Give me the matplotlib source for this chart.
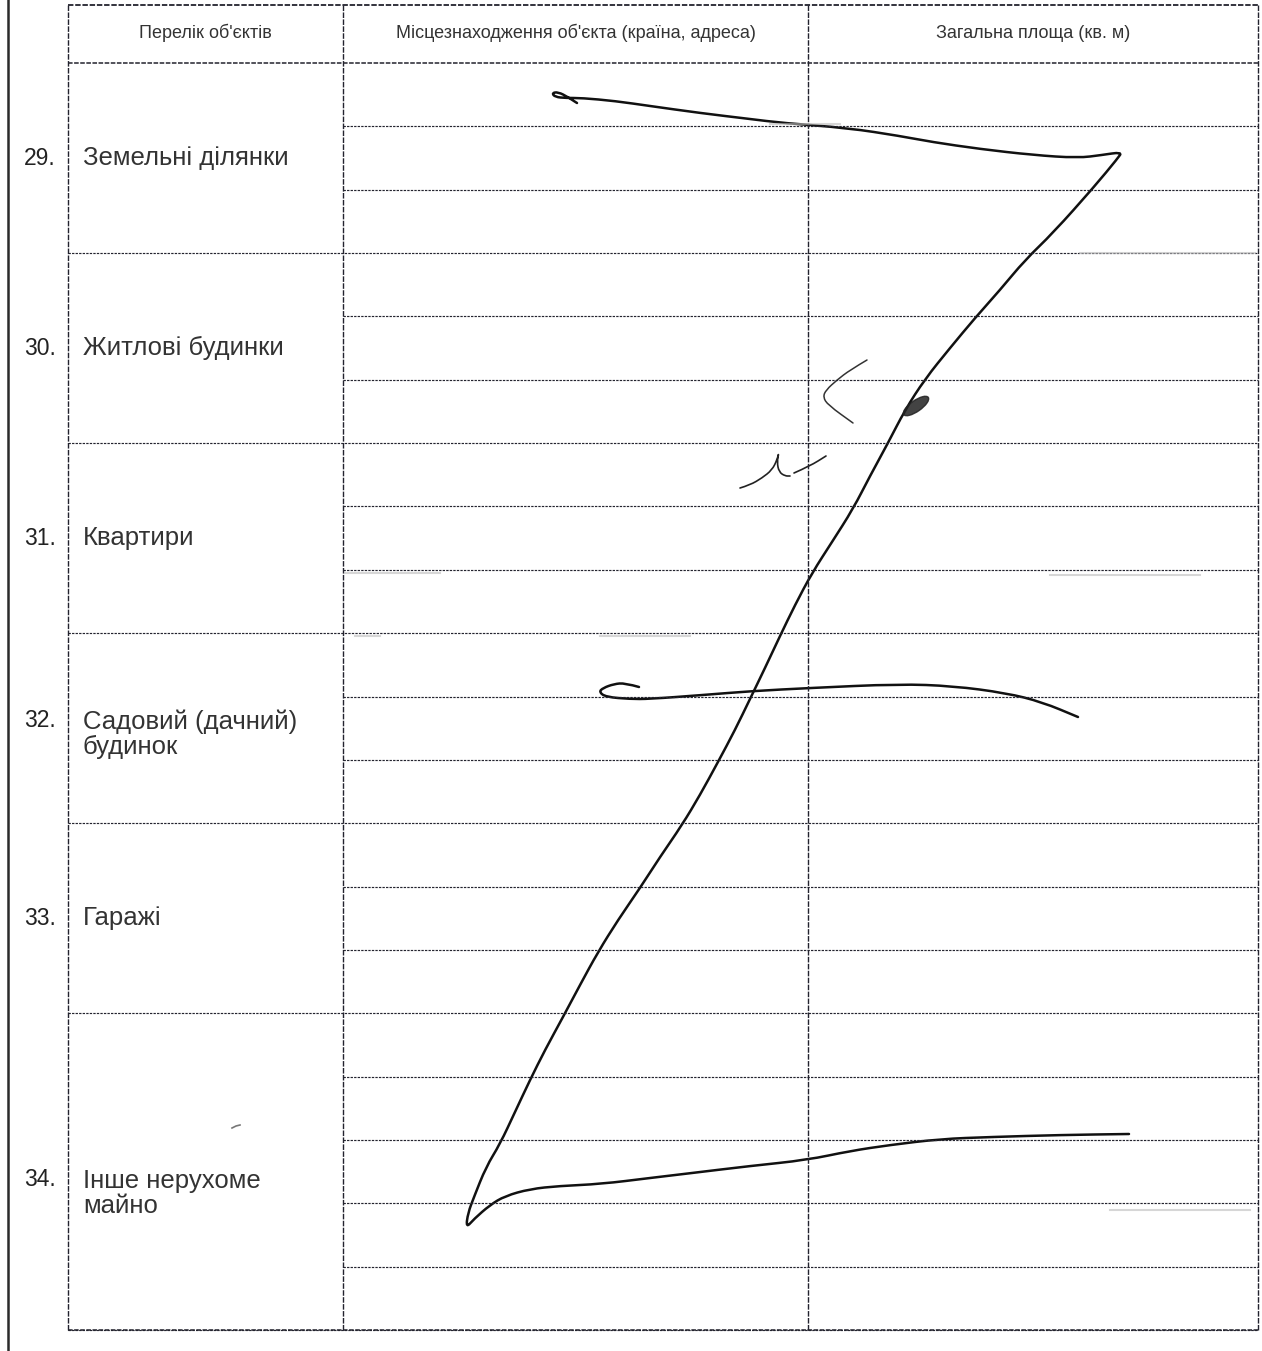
import numpy as np
import matplotlib
matplotlib.use("Agg")
from matplotlib import pyplot as plt
from matplotlib.patches import Ellipse, PathPatch
from matplotlib.path import Path

plt.rcParams['font.family'] = ['Liberation Sans', 'DejaVu Sans']

# form content
headers = ["Перелік об'єктів", "Місцезнаходження об'єкта (країна, адреса)", "Загальна площа (кв. м)"]
numbers = ["29.", "30.", "31.", "32.", "33.", "34."]
labels = ["Земельні ділянки", "Житлові будинки", "Квартири",
          "Садовий (дачний)\nбудинок", "Гаражі", "Інше нерухоме\nмайно"]
subrows = [3, 3, 3, 3, 3, 5]

# handwritten strokes (page pixel coords)
sig_x = [577, 568, 558, 552, 555, 566, 582, 615, 650, 700, 750, 783, 848, 900, 932, 980,
         1033, 1078, 1102, 1122, 1118, 1094, 1053, 1025, 1000, 975, 950, 925, 905, 888,
         870, 853, 832, 812, 795, 780, 765, 750, 735, 718, 700, 682, 660, 640, 618, 598,
         580, 563, 545, 530, 515, 500, 486, 474, 468, 466, 474, 490, 505, 530, 559, 601, 650,
         692, 750, 807, 850, 890, 940, 991, 1060, 1129]
sig_y = [103, 97, 92, 93, 97, 98, 98, 101, 106, 113, 119, 123, 128, 136, 142, 149,
         155, 158, 155, 152, 158, 187, 233, 260, 290, 318, 348, 379, 410, 443,
         476, 509, 542, 573, 605, 636, 668, 699, 730, 762, 795, 825, 857, 888, 920, 952,
         985, 1017, 1050, 1080, 1112, 1144, 1167, 1197, 1213, 1228, 1219, 1205, 1196, 1189, 1186,
         1184, 1178, 1173, 1166, 1160, 1151, 1145, 1139, 1137, 1135, 1134]

dash_x = [639, 625, 614, 603, 599, 606, 630, 649, 703, 753, 810, 899, 953, 1006, 1042, 1078]
dash_y = [687, 683, 684, 688, 692, 697, 699, 699, 695, 691, 688, 684, 686, 693, 702, 717]

lt_x = [867, 850, 837, 826, 823, 828, 853]
lt_y = [360, 370, 380, 390, 397, 405, 423]

mark_x = [740, 750, 762, 772, 777, 779, 777, 779, 785, 790]
mark_y = [488, 485, 478, 470, 460, 452, 462, 472, 476, 476]
tick_x = [794, 810, 826]
tick_y = [473, 466, 456]


def stroke(ax, xs, ys, color, lw):
    # smooth pen stroke: quadratic segments through midpoints
    pts = np.column_stack([xs, ys]).astype(float)
    verts = [pts[0]]
    codes = [Path.MOVETO]
    for i in range(1, len(pts) - 1):
        verts += [pts[i], (pts[i] + pts[i + 1]) / 2]
        codes += [Path.CURVE3, Path.CURVE3]
    verts.append(pts[-1])
    codes.append(Path.LINETO)
    ax.add_patch(PathPatch(Path(verts, codes), fill=False, edgecolor=color, lw=lw,
                           joinstyle='round', capstyle='round'))


W, H = 1262, 1351
fig = plt.figure(figsize=(W / 100, H / 100), dpi=100)
ax = fig.add_axes([0, 0, 1, 1])
ax.set_xlim(0, W)
ax.set_ylim(H, 0)
ax.axis('off')

ink = '#23232e'
cols = [68, 343, 808, 1258]
top, head_bot, bot = 5, 63, 1330
rh = (bot - head_bot) / sum(subrows)

# page edge line
ax.plot([8, 8], [0, H], color='#2a2a2a', lw=1.8)

# outer frame + column lines
ax.plot([cols[0], cols[-1]], [top, top], color=ink, lw=1.3, ls=(0, (3, 1)))
ax.plot([cols[0], cols[-1]], [head_bot, head_bot], color=ink, lw=1.1, ls=(0, (3, 1)))
ax.plot([cols[0], cols[-1]], [bot, bot], color=ink, lw=1.1, ls=(0, (3, 1)))
for x in cols:
    ax.plot([x, x], [top, bot], color=ink, lw=1.0, ls=(0, (4, 1)))

# row lines, numbers and labels
y = head_bot
for i, n in enumerate(subrows):
    y0 = y
    for k in range(1, n + 1):
        yy = y0 + k * rh
        x0 = cols[0] if k == n else cols[1]
        ax.plot([x0, cols[-1]], [yy, yy], color=ink, lw=0.85, ls=(0, (2, 1)))
    y = y0 + n * rh
    mid = (y0 + y) / 2
    if i == len(subrows) - 1:
        mid = y0 + 2.75 * rh
    nlines = labels[i].count('\n') + 1
    if nlines > 1:
        mid += 6
    ax.text(83, mid, labels[i], ha='left', va='center', fontsize=18.5, color='#333',
            linespacing=1.08)
    ax.text(56, mid - (nlines - 1) * 13.5, numbers[i], ha='right', va='center',
            fontsize=16.5, color='#222')

# headers
for j, h in enumerate(headers):
    ax.text((cols[j] + cols[j + 1]) / 2, 33, h, ha='center', va='center',
            fontsize=13, color='#333')

# faint scan smudges
for (x0, x1, yy) in [(1080, 1255, 253), (345, 440, 573), (1050, 1200, 575),
                     (355, 380, 636), (600, 690, 636), (770, 840, 124), (1110, 1250, 1210)]:
    ax.plot([x0, x1], [yy, yy], color='#bbb', lw=1.5, alpha=0.6)

# handwriting
stroke(ax, sig_x, sig_y, '#111', 1.8)
stroke(ax, dash_x, dash_y, '#111', 1.8)
stroke(ax, lt_x, lt_y, '#333', 1.1)
stroke(ax, mark_x, mark_y, '#222', 1.2)
stroke(ax, tick_x, tick_y, '#222', 1.2)
ax.add_patch(Ellipse((916, 406), 30, 11, angle=-35, color='#222', alpha=0.85))
ax.plot([232, 236, 240], [1128, 1126, 1125], color='#777', lw=1.2)

fig.savefig('out.png', dpi=100, facecolor='white')
